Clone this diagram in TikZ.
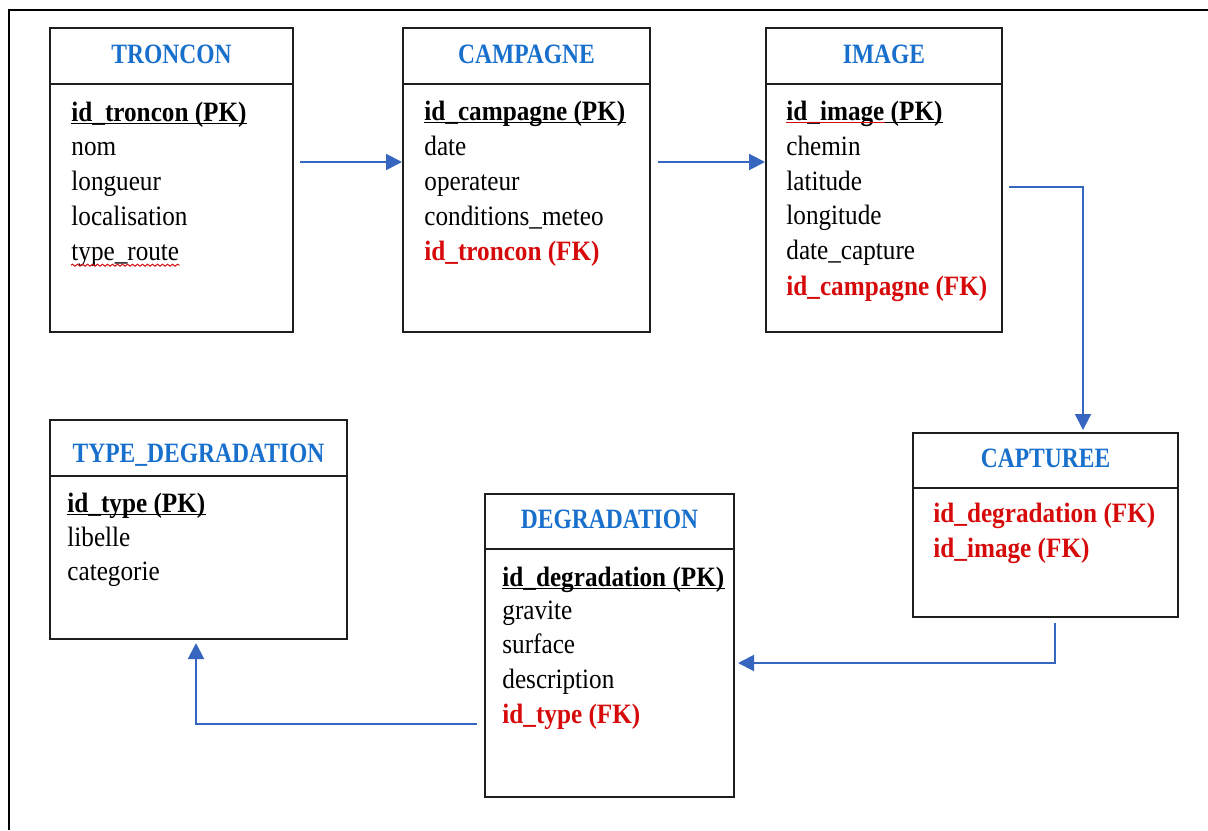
\documentclass[tikz,border=0pt]{standalone}
\usepackage{fontspec}
\setmainfont{Liberation Serif}
\newfontfamily\rowfont[FakeStretch=0.9]{Liberation Serif}
\newfontfamily\headfont[FakeStretch=0.84]{Liberation Serif}
\usetikzlibrary{arrows.meta,fit,decorations.pathmorphing}
\definecolor{titleblue}{RGB}{24,112,204}
\definecolor{fkred}{RGB}{214,10,10}
\definecolor{linkblue}{RGB}{55,102,192}
\definecolor{frameink}{RGB}{30,30,30}

\begin{document}
\begin{tikzpicture}[x=0.5pt,y=-0.5pt,
  tablebox/.style={draw=frameink,line width=1pt,inner sep=0pt},
  divider/.style={draw=frameink,line width=1pt},
  tabletitle/.style={font=\headfont\fontsize{14}{16}\selectfont\bfseries,text=titleblue,inner sep=0pt,anchor=base},
  field/.style={font=\rowfont\fontsize{14}{16}\selectfont,anchor=base west,inner sep=0pt},
  pk/.style={field,font=\rowfont\fontsize{14}{16}\selectfont\bfseries},
  fk/.style={field,font=\rowfont\fontsize{14}{16}\selectfont\bfseries,text=fkred},
  pkline/.style={draw=black,line width=0.75pt},
  spell/.style={draw=fkred,line width=0.5pt,decorate,decoration={snake,amplitude=0.5pt,segment length=2.5pt}},
  link/.style={draw=linkblue,line width=1pt,-{Triangle[length=8pt,width=8pt]}}
]
\useasboundingbox (0,0) rectangle (1208,830);

% outer frame
\draw[line width=1.4pt,black] (9,830) -- (9,10) -- (1208,10);

% ---------- tables ----------
\node[tablebox,fit={(50,28) (293,332)}] (troncon) {};
\node[tablebox,fit={(403,28) (650,332)}] (campagne) {};
\node[tablebox,fit={(766,28) (1002,332)}] (image) {};
\node[tablebox,fit={(50,420) (347,639)}] (typedeg) {};
\node[tablebox,fit={(485,494) (734,797)}] (degradation) {};
\node[tablebox,fit={(913,433) (1178,617)}] (capturee) {};

% header separators
\draw[divider] (troncon.west |- 0,84) -- (troncon.east |- 0,84);
\draw[divider] (campagne.west |- 0,84) -- (campagne.east |- 0,84);
\draw[divider] (image.west |- 0,84) -- (image.east |- 0,84);
\draw[divider] (typedeg.west |- 0,476) -- (typedeg.east |- 0,476);
\draw[divider] (degradation.west |- 0,549) -- (degradation.east |- 0,549);
\draw[divider] (capturee.west |- 0,488) -- (capturee.east |- 0,488);

% titles
\node[tabletitle] (ttroncon) at (171.5,63) {TRONCON};
\node[tabletitle] (tcampagne) at (526.5,63) {CAMPAGNE};
\node[tabletitle] (timage) at (884,63) {IMAGE};
\node[tabletitle] (ttypedeg) at (198.5,462) {TYPE\_DEGRADATION};
\node[tabletitle] (tdegradation) at (609.5,528) {DEGRADATION};
\node[tabletitle] (tcapturee) at (1045.5,467) {CAPTUREE};

% TRONCON fields
\node[pk] (tr1) at (71,121) {id\_troncon (PK)};
\node[field] (tr2) at (71,155) {nom};
\node[field] (tr3) at (71,190) {longueur};
\node[field] (tr4) at (71,225) {localisation};
\node[field] (tr5) at (71,260) {type\_route};
\draw[pkline] ([yshift=-1.3pt]tr1.base west) -- ([yshift=-1.3pt]tr1.base east);
\draw[spell] ([yshift=-2.6pt]tr5.base west) -- ([yshift=-2.6pt]tr5.base east);

% CAMPAGNE fields
\node[pk] (ca1) at (424,120) {id\_campagne (PK)};
\node[field] (ca2) at (424,155) {date};
\node[field] (ca3) at (424,190) {operateur};
\node[field] (ca4) at (424,225) {conditions\_meteo};
\node[fk] (ca5) at (424,260) {id\_troncon (FK)};
\draw[pkline] ([yshift=-1.3pt]ca1.base west) -- ([yshift=-1.3pt]ca1.base east);

% IMAGE fields
\node[pk] (im1) at (786,120) {id\_image (PK)};
\node[field] (im2) at (786,155) {chemin};
\node[field] (im3) at (786,190) {latitude};
\node[field] (im4) at (786,224) {longitude};
\node[field] (im5) at (786,259) {date\_capture};
\node[fk] (im6) at (786,295) {id\_campagne (FK)};
\draw[pkline] ([yshift=-1.3pt]im1.base west) -- ([yshift=-1.3pt]im1.base east);
\draw[draw=fkred,line width=0.75pt] ([yshift=-1.3pt]im1.base west) -- ++(99,0);

% TYPE_DEGRADATION fields
\node[pk] (ty1) at (67,512) {id\_type (PK)};
\node[field] (ty2) at (67,546) {libelle};
\node[field] (ty3) at (67,580) {categorie};
\draw[pkline] ([yshift=-1.3pt]ty1.base west) -- ([yshift=-1.3pt]ty1.base east);

% DEGRADATION fields
\node[pk] (de1) at (502,586) {id\_degradation (PK)};
\node[field] (de2) at (502,619) {gravite};
\node[field] (de3) at (502,653) {surface};
\node[field] (de4) at (502,688) {description};
\node[fk] (de5) at (502,723) {id\_type (FK)};
\draw[pkline] ([yshift=-1.3pt]de1.base west) -- ([yshift=-1.3pt]de1.base east);

% CAPTUREE fields
\node[fk] (cp1) at (933,522) {id\_degradation (FK)};
\node[fk] (cp2) at (933,557) {id\_image (FK)};

% ---------- relations ----------
\draw[link] ([xshift=3pt]troncon.east |- 0,162) -- (campagne.west |- 0,162);
\draw[link] ([xshift=3.5pt]campagne.east |- 0,162) -- (image.west |- 0,162);
\draw[link] ([xshift=3pt]image.east |- 0,187) -| ([yshift=1pt]capturee.north -| 1083,0);
\draw[link] ([yshift=-2.5pt]capturee.south -| 1055,0) |- ([xshift=1.5pt]degradation.east |- 0,663);
\draw[link] ([xshift=-3.5pt]degradation.west |- 0,724) -| ([yshift=-1.5pt]typedeg.south -| 196,0);
\end{tikzpicture}
\end{document}
